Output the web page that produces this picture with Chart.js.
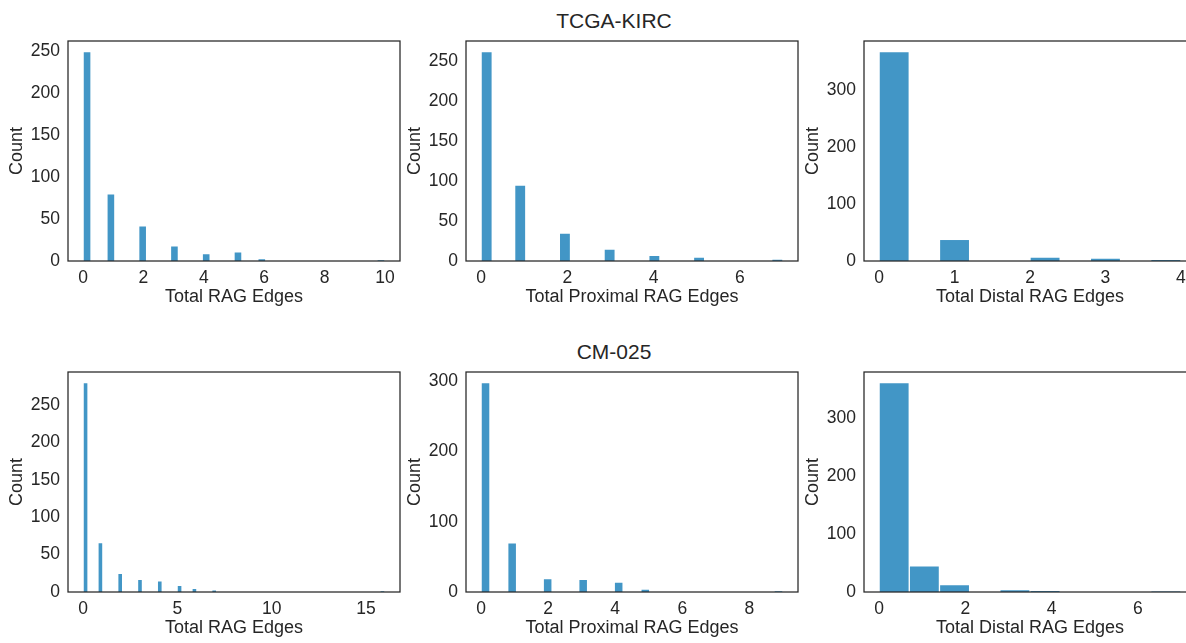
<!DOCTYPE html>
<html>
<head>
<meta charset="utf-8">
<script src="https://cdn.jsdelivr.net/npm/chart.js@4.4.1/dist/chart.umd.min.js"></script>
<style>
  html, body { margin: 0; padding: 0; background: #fff; overflow: hidden; }
  body { width: 1186px; height: 643px; position: relative; }
  canvas { position: absolute; }
  .suptitle {
    position: absolute; width: 300px; text-align: center; line-height: 24px;
    font: 21px "Liberation Sans", Arial, sans-serif; color: #262626;
  }
</style>
</head>
<body>
<div class="suptitle" style="left:464px; top:9px;">TCGA-KIRC</div>
<div class="suptitle" style="left:464px; top:340px;">CM-025</div>
<canvas id="c1" width="404" height="292" style="left:0px; top:29px;"></canvas>
<canvas id="c2" width="404" height="292" style="left:398px; top:29px;"></canvas>
<canvas id="c3" width="404" height="292" style="left:796px; top:29px;"></canvas>
<canvas id="c4" width="404" height="292" style="left:0px; top:360px;"></canvas>
<canvas id="c5" width="404" height="292" style="left:398px; top:360px;"></canvas>
<canvas id="c6" width="404" height="292" style="left:796px; top:360px;"></canvas>
<script>
// 1. Counts per number of edges (index = 0, 1, 2, ...)
const kircTotal    = [250, 80, 42, 18, 9, 11, 3, 0, 0, 0, 1];
const kircProximal = [262, 95, 35, 15, 7, 5, 0, 2];
const kircDistal   = [368, 38, 7, 5, 2];
const cmTotal      = [280, 66, 25, 17, 15, 9, 5, 3, 0, 0, 0, 0, 0, 0, 0, 0, 1];
const cmProximal   = [298, 70, 19, 18, 14, 4, 0, 0, 0, 1];
const cmDistal     = [362, 45, 13, 4, 2, 0, 0, 1];

// number of histogram bins in each panel
const binsKircTotal = 38, binsKircProximal = 27, binsKircDistal = 10;
const binsCmTotal = 61, binsCmProximal = 34, binsCmDistal = 10;

// tick labels
const xTicksKircTotal = [0, 2, 4, 6, 8, 10];
const xTicksKircProximal = [0, 2, 4, 6];
const xTicksKircDistal = [0, 1, 2, 3, 4];
const xTicksCmTotal = [0, 5, 10, 15];
const xTicksCmProximal = [0, 2, 4, 6, 8];
const xTicksCmDistal = [0, 2, 4, 6];
const yTicksKircTotal = [0, 50, 100, 150, 200, 250];
const yTicksKircProximal = [0, 50, 100, 150, 200, 250];
const yTicksKircDistal = [0, 100, 200, 300];
const yTicksCmTotal = [0, 50, 100, 150, 200, 250];
const yTicksCmProximal = [0, 100, 200, 300];
const yTicksCmDistal = [0, 100, 200, 300];

const labelTotal = 'Total RAG Edges';
const labelProximal = 'Total Proximal RAG Edges';
const labelDistal = 'Total Distal RAG Edges';

Chart.defaults.font.family = '"Liberation Sans", Arial, sans-serif';
Chart.defaults.color = '#262626';

// 2. put the counts into equal-width bins (like seaborn histplot)
function binne(counts, nBins) {
  const lo = 0, hi = counts.length - 1;
  const w = (hi - lo) / nBins;
  const out = new Array(nBins).fill(0);
  counts.forEach((c, v) => {
    let i = Math.floor((v - lo) / w + 1e-9);
    if (i >= nBins) i = nBins - 1;
    out[i] += c;
  });
  return out.map((c, i) => ({ x: lo + (i + 0.5) * w, y: c }));
}

// frame around the plot area
const rahmen = {
  id: 'rahmen',
  afterDatasetsDraw(chart) {
    const { ctx, chartArea: a } = chart;
    ctx.save();
    ctx.strokeStyle = '#262626';
    ctx.lineWidth = 1.25;
    ctx.strokeRect(a.left, a.top, a.right - a.left, a.bottom - a.top);
    ctx.restore();
  }
};

function zeichne(id, counts, nBins, xTicks, yTicks, xLabel) {
  const hi = counts.length - 1;
  const pad = hi * 0.05;
  const yMax = Math.max(...counts) * 1.05;
  new Chart(document.getElementById(id), {
    type: 'bar',
    data: {
      datasets: [{
        data: binne(counts, nBins),
        backgroundColor: 'rgb(66,150,198)',
        borderColor: 'rgba(255,255,255,0.55)',
        borderWidth: 1,
        categoryPercentage: 1,
        barPercentage: 1
      }]
    },
    options: {
      responsive: false,
      animation: false,
      layout: { padding: { top: 12, right: 4, left: 0, bottom: 0 } },
      plugins: { legend: { display: false }, tooltip: { enabled: false } },
      scales: {
        x: {
          type: 'linear',
          offset: false,
          min: -pad,
          max: hi + pad,
          grid: { display: false, drawTicks: false },
          border: { display: false },
          afterBuildTicks: s => { s.ticks = xTicks.map(v => ({ value: v })); },
          afterFit: s => { s.height = 60; s.paddingLeft = 0; s.paddingRight = 0; },
          ticks: { autoSkip: false, maxRotation: 0, padding: 7, font: { size: 17.5 }, callback: v => String(v) },
          title: { display: true, text: xLabel, font: { size: 18 }, padding: { top: 0, bottom: 13 } }
        },
        y: {
          min: 0,
          max: yMax,
          grid: { display: false, drawTicks: false },
          border: { display: false },
          afterBuildTicks: s => { s.ticks = yTicks.map(v => ({ value: v })); },
          afterFit: s => { s.width = 68; s.paddingTop = 0; s.paddingBottom = 0; },
          ticks: { padding: 8, font: { size: 17.5 }, callback: v => String(v) },
          title: { display: true, text: 'Count', font: { size: 18 }, padding: { top: 6, bottom: 0 } }
        }
      }
    },
    plugins: [rahmen]
  });
}

// 3. draw the six panels
zeichne('c1', kircTotal, binsKircTotal, xTicksKircTotal, yTicksKircTotal, labelTotal);
zeichne('c2', kircProximal, binsKircProximal, xTicksKircProximal, yTicksKircProximal, labelProximal);
zeichne('c3', kircDistal, binsKircDistal, xTicksKircDistal, yTicksKircDistal, labelDistal);
zeichne('c4', cmTotal, binsCmTotal, xTicksCmTotal, yTicksCmTotal, labelTotal);
zeichne('c5', cmProximal, binsCmProximal, xTicksCmProximal, yTicksCmProximal, labelProximal);
zeichne('c6', cmDistal, binsCmDistal, xTicksCmDistal, yTicksCmDistal, labelDistal);
</script>
</body>
</html>
